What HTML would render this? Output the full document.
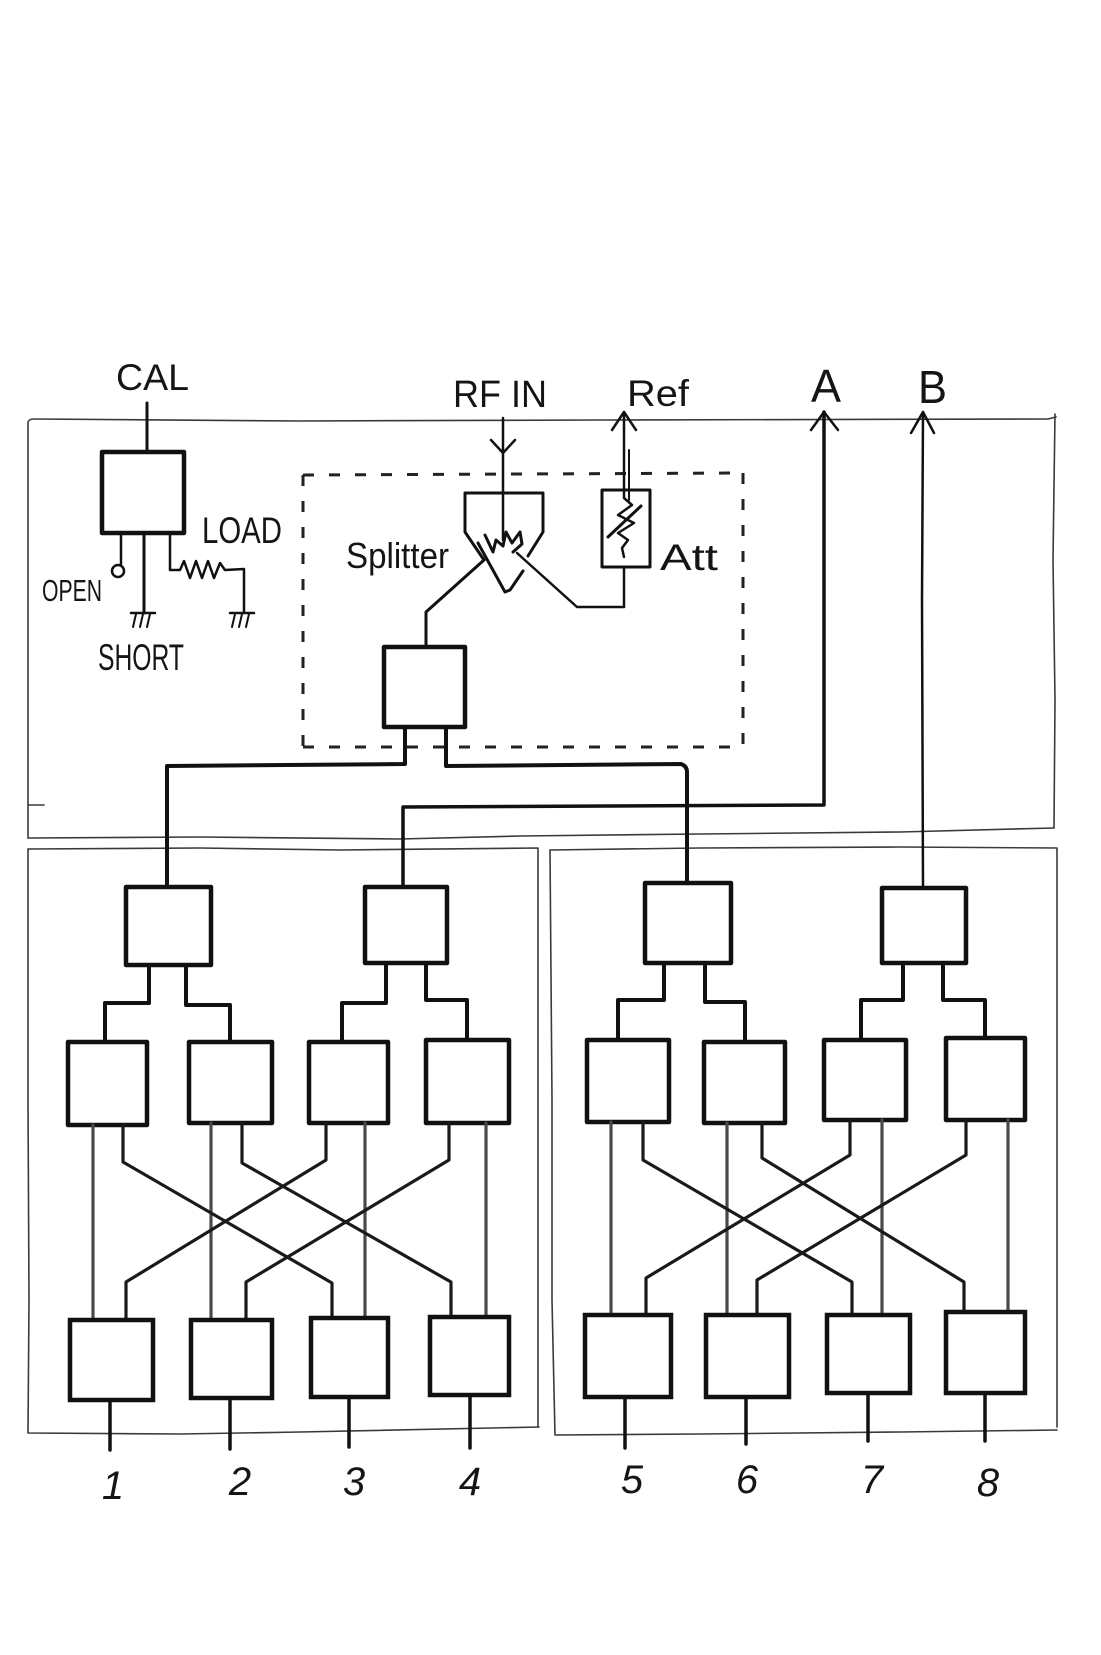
<!DOCTYPE html>
<html>
<head>
<meta charset="utf-8">
<style>
  html, body { margin: 0; padding: 0; background: #ffffff; }
  svg { display: block; }
  text { font-family: "Liberation Sans", "DejaVu Sans", sans-serif; fill: #151515; }
</style>
</head>
<body>
<svg width="1101" height="1655" viewBox="0 0 1101 1655" xmlns="http://www.w3.org/2000/svg">
  <rect x="0" y="0" width="1101" height="1655" fill="#ffffff"/>

  <!-- ===== Outer boxes (thin pencil) ===== -->
  <g fill="none" stroke="#3a3a3a" stroke-width="1.6" stroke-linecap="round" stroke-linejoin="round">
    <!-- top box -->
    <path d="M28,838 L28,422 Q29,419 34,419 L300,421 L600,420 L1048,419 L1056,417"/>
    <path d="M1055,414 L1053,560 L1055,700 L1054,828"/>
    <path d="M28,838 L200,837 L400,839 L520,836 L700,834 L900,832 L1054,828"/>
    <path d="M28,805 L44,805"/>
    <!-- lower-left box -->
    <path d="M28,849 L200,848 L340,850 L538,848 L538,1427"/>
    <path d="M28,849 L28,1100 L29,1300 L28,1433 L180,1434 L300,1432 L539,1427"/>
    <!-- lower-right box -->
    <path d="M550,850 L700,848 L900,847 L1057,848 L1057,1427"/>
    <path d="M550,850 L552,1100 L552,1300 L555,1435 L700,1434 L900,1432 L1057,1430"/>
  </g>

  <!-- ===== Dashed splitter box ===== -->
  <g fill="none" stroke="#222" stroke-width="3" stroke-dasharray="11 15">
    <path d="M303,475 L743,473"/>
    <path d="M743,473 L743,747"/>
    <path d="M303,747 L743,747"/>
    <path d="M303,475 L303,747"/>
  </g>

  <!-- ===== CAL section ===== -->
  <g fill="none" stroke="#111" stroke-linecap="round" stroke-linejoin="round">
    <line x1="147" y1="403" x2="147" y2="452" stroke-width="3"/>
    <rect x="102" y="452" width="82" height="81" stroke-width="4.5"/>
    <!-- open -->
    <line x1="121" y1="533" x2="121" y2="564" stroke-width="2.5"/>
    <circle cx="118" cy="571" r="6" stroke-width="2.5"/>
    <!-- short -->
    <line x1="144" y1="533" x2="144" y2="613" stroke-width="3"/>
    <line x1="131" y1="613" x2="155" y2="613" stroke-width="2.5"/>
    <line x1="136" y1="614" x2="133" y2="627" stroke-width="2"/>
    <line x1="143" y1="614" x2="140" y2="627" stroke-width="2"/>
    <line x1="150" y1="614" x2="147" y2="627" stroke-width="2"/>
    <!-- load -->
    <path d="M170,533 L170,570 L180,570 L184,561 L190,578 L196,561 L202,578 L208,561 L214,578 L220,563 L225,570 L244,569 L244,613" stroke-width="2.5"/>
    <line x1="230" y1="613" x2="254" y2="613" stroke-width="2.5"/>
    <line x1="235" y1="614" x2="232" y2="627" stroke-width="2"/>
    <line x1="242" y1="614" x2="239" y2="627" stroke-width="2"/>
    <line x1="249" y1="614" x2="246" y2="627" stroke-width="2"/>
  </g>

  <!-- ===== RF IN, splitter, attenuator ===== -->
  <g fill="none" stroke="#111" stroke-linecap="round" stroke-linejoin="round">
    <!-- RF IN arrow (pointing down) -->
    <line x1="503" y1="418" x2="503" y2="540" stroke-width="2.5"/>
    <path d="M491,440 L503,453 L515,440" stroke-width="2.5"/>
    <!-- splitter outline -->
    <path d="M484,560 L465,532 L465,493 L543,493 L543,532 L528,556" stroke-width="3"/>
    <!-- flame / zigzag -->
    <path d="M485,535 L493,552 L496,540 L503,546 L506,532 L512,543 L520,532 L522,544 L513,552" stroke-width="3"/>
    <path d="M478,543 L505,592 L510,590 L523,571" stroke-width="3"/>
    <!-- splitter left output -->
    <path d="M484,560 L426,612 L426,647" stroke-width="3"/>
    <!-- splitter right output to attenuator -->
    <path d="M517,553 L577,607 L624,607 L624,567" stroke-width="2.5"/>
    <!-- attenuator -->
    <rect x="602" y="490" width="48" height="77" stroke-width="3"/>
    <path d="M624,490 L624,498 L632,505 L618,515 L634,523 L618,533 L628,540 L622,548 L624,557" stroke-width="2.5"/>
    <line x1="608" y1="537" x2="641" y2="506" stroke-width="3"/>
    <!-- Ref arrow (pointing up) -->
    <line x1="624" y1="412" x2="624" y2="490" stroke-width="2.5"/>
    <line x1="629" y1="450" x2="629" y2="500" stroke-width="2"/>
    <path d="M612,430 L624,412 L636,430" stroke-width="2.5"/>
    <!-- A arrow -->
    <path d="M811,430 L824,412 L838,430" stroke-width="2.5"/>
    <!-- B arrow -->
    <path d="M911,433 L923,412 L934,433" stroke-width="2.5"/>
  </g>

  <!-- ===== Splitter output box + distribution ===== -->
  <g fill="none" stroke="#111" stroke-linecap="round" stroke-linejoin="round">
    <rect x="384" y="647" width="81" height="80" stroke-width="4.5"/>
    <!-- left output to T1 -->
    <path d="M405,727 L405,764 L167,766 L167,887" stroke-width="4"/>
    <!-- right output to T3 -->
    <path d="M446,727 L446,766 L681,764 Q687,766 687,772 L687,883" stroke-width="4"/>
    <!-- A line down to T2 -->
    <path d="M824,412 L824,805 L403,807 L403,887" stroke-width="3.5"/>
    <!-- B line down to T4 -->
    <path d="M923,412 L922,600 L923,888" stroke-width="2.5"/>

    <!-- top-level boxes -->
    <rect x="126" y="887" width="85" height="78" stroke-width="4.5"/>
    <rect x="365" y="887" width="82" height="76" stroke-width="4.5"/>
    <rect x="645" y="883" width="86" height="80" stroke-width="4.5"/>
    <rect x="882" y="888" width="84" height="75" stroke-width="4.5"/>

    <!-- T1 to L1/L2 -->
    <path d="M149,965 L149,1003 L105,1003 L105,1042" stroke-width="4"/>
    <path d="M186,965 L186,1005 L230,1005 L230,1042" stroke-width="4"/>
    <!-- T2 to L3/L4 -->
    <path d="M386,963 L386,1003 L342,1003 L342,1042" stroke-width="4"/>
    <path d="M426,963 L426,1000 L467,1000 L467,1040" stroke-width="4"/>
    <!-- T3 to R1/R2 -->
    <path d="M664,963 L664,1000 L618,1000 L618,1040" stroke-width="4"/>
    <path d="M705,963 L705,1002 L745,1002 L745,1042" stroke-width="4"/>
    <!-- T4 to R3/R4 -->
    <path d="M903,963 L903,1000 L861,1000 L861,1040" stroke-width="4"/>
    <path d="M943,963 L943,1000 L985,1000 L985,1038" stroke-width="4"/>

    <!-- middle row boxes -->
    <rect x="68" y="1042" width="79" height="83" stroke-width="4.5"/>
    <rect x="189" y="1042" width="83" height="81" stroke-width="4.5"/>
    <rect x="309" y="1042" width="79" height="81" stroke-width="4.5"/>
    <rect x="426" y="1040" width="83" height="83" stroke-width="4.5"/>
    <rect x="587" y="1040" width="82" height="82" stroke-width="4.5"/>
    <rect x="704" y="1042" width="81" height="81" stroke-width="4.5"/>
    <rect x="824" y="1040" width="82" height="80" stroke-width="4.5"/>
    <rect x="946" y="1038" width="79" height="82" stroke-width="4.5"/>
  </g>

  <!-- straight pencil lines mid -> bottom -->
  <g fill="none" stroke="#4a4a4a" stroke-width="3.2" stroke-linecap="round">
    <line x1="93" y1="1125" x2="93" y2="1320"/>
    <line x1="211" y1="1123" x2="211" y2="1320"/>
    <line x1="365" y1="1123" x2="365" y2="1318"/>
    <line x1="486" y1="1123" x2="486" y2="1317"/>
    <line x1="611" y1="1122" x2="611" y2="1315"/>
    <line x1="727" y1="1123" x2="727" y2="1315"/>
    <line x1="882" y1="1120" x2="882" y2="1315"/>
    <line x1="1008" y1="1120" x2="1008" y2="1312"/>
  </g>

  <!-- crossing lines -->
  <g fill="none" stroke="#1a1a1a" stroke-width="3.2" stroke-linecap="round" stroke-linejoin="round">
    <path d="M123,1125 L123,1162 L332,1283 L332,1318"/>
    <path d="M242,1123 L242,1163 L451,1282 L451,1317"/>
    <path d="M326,1123 L326,1160 L126,1282 L126,1320"/>
    <path d="M449,1123 L449,1160 L246,1282 L246,1320"/>
    <path d="M643,1122 L643,1160 L852,1282 L852,1315"/>
    <path d="M762,1123 L762,1158 L964,1282 L964,1312"/>
    <path d="M850,1120 L850,1155 L646,1278 L646,1315"/>
    <path d="M966,1120 L966,1155 L757,1280 L757,1315"/>
  </g>

  <!-- bottom row boxes + outputs -->
  <g fill="none" stroke="#111" stroke-linecap="round">
    <rect x="70" y="1320" width="83" height="80" stroke-width="4.5"/>
    <rect x="191" y="1320" width="81" height="78" stroke-width="4.5"/>
    <rect x="311" y="1318" width="77" height="79" stroke-width="4.5"/>
    <rect x="430" y="1317" width="79" height="78" stroke-width="4.5"/>
    <rect x="585" y="1315" width="86" height="82" stroke-width="4.5"/>
    <rect x="706" y="1315" width="83" height="82" stroke-width="4.5"/>
    <rect x="827" y="1315" width="83" height="78" stroke-width="4.5"/>
    <rect x="946" y="1312" width="79" height="81" stroke-width="4.5"/>

    <line x1="110" y1="1400" x2="110" y2="1450" stroke-width="3.5"/>
    <line x1="230" y1="1398" x2="230" y2="1449" stroke-width="3.5"/>
    <line x1="349" y1="1397" x2="349" y2="1447" stroke-width="3.5"/>
    <line x1="470" y1="1395" x2="470" y2="1448" stroke-width="3.5"/>
    <line x1="625" y1="1397" x2="625" y2="1448" stroke-width="3.5"/>
    <line x1="746" y1="1397" x2="746" y2="1444" stroke-width="3.5"/>
    <line x1="868" y1="1393" x2="868" y2="1441" stroke-width="3.5"/>
    <line x1="985" y1="1393" x2="985" y2="1441" stroke-width="3.5"/>
  </g>

  <!-- ===== Labels ===== -->
  <text x="116" y="390" font-size="37" textLength="73" lengthAdjust="spacingAndGlyphs">CAL</text>
  <text x="453" y="407" font-size="38" textLength="94" lengthAdjust="spacingAndGlyphs">RF IN</text>
  <text x="627" y="406" font-size="37" textLength="62" lengthAdjust="spacingAndGlyphs">Ref</text>
  <text x="811" y="402" font-size="46" textLength="30" lengthAdjust="spacingAndGlyphs">A</text>
  <text x="918" y="403" font-size="46" textLength="29" lengthAdjust="spacingAndGlyphs">B</text>
  <text x="202" y="543" font-size="37" textLength="80" lengthAdjust="spacingAndGlyphs">LOAD</text>
  <text x="42" y="601" font-size="31" textLength="60" lengthAdjust="spacingAndGlyphs">OPEN</text>
  <text x="98" y="670" font-size="37" textLength="86" lengthAdjust="spacingAndGlyphs">SHORT</text>
  <text x="346" y="568" font-size="36" textLength="103" lengthAdjust="spacingAndGlyphs">Splitter</text>
  <text x="660" y="570" font-size="37" textLength="58" lengthAdjust="spacingAndGlyphs">Att</text>

  <g font-size="40" font-style="italic" text-anchor="middle">
    <text x="113" y="1499">1</text>
    <text x="240" y="1495">2</text>
    <text x="354" y="1495">3</text>
    <text x="470" y="1495">4</text>
    <text x="632" y="1493">5</text>
    <text x="747" y="1493">6</text>
    <text x="872" y="1493">7</text>
    <text x="988" y="1496">8</text>
  </g>
</svg>
</body>
</html>
